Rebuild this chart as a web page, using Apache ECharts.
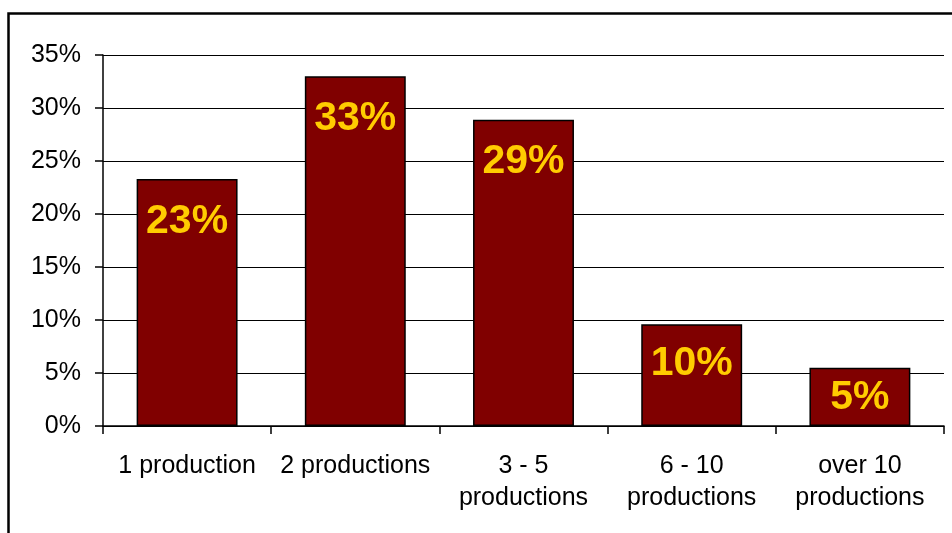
<!DOCTYPE html>
<html><head><meta charset="utf-8">
<script src="https://cdn.jsdelivr.net/npm/echarts@6/dist/echarts.min.js"></script>
<style>html,body{margin:0;padding:0;background:#fff}#c{width:952px;height:533px}</style>
</head><body><div id="c"></div>
<script>
const categories = ['1 production', '2 productions', '3 - 5\nproductions', '6 - 10\nproductions', 'over 10\nproductions'];
const values = [23.3, 33.0, 28.9, 9.6, 5.5];
const labels = ['23%', '33%', '29%', '10%', '5%'];
const yTicks = [0, 5, 10, 15, 20, 25, 30, 35];

const FONT = '"Liberation Sans", Arial, sans-serif';
const labelDist = [22, 22, 22, 19, 9];
const chart = echarts.init(document.getElementById('c'), null, {renderer: 'canvas'});
chart.setOption({
  animation: false,
  backgroundColor: '#fff',
  graphic: [{
    type: 'rect', left: 6, top: 11, shape: {width: 1000, height: 600},
    style: {fill: 'none', stroke: '#000', lineWidth: 2.5}, silent: true
  }],
  grid: {left: 103, right: 8, top: 55, bottom: 107, containLabel: false},
  xAxis: {
    type: 'category', data: categories,
    axisLine: {lineStyle: {color: '#000', width: 1.5}},
    axisTick: {show: true, length: 8, alignWithLabel: false, lineStyle: {color: '#000', width: 1.5}},
    axisLabel: {color: '#000', fontFamily: FONT, fontSize: 25, lineHeight: 32, margin: 24, interval: 0}
  },
  yAxis: {
    type: 'value', min: yTicks[0], max: yTicks[yTicks.length - 1], interval: 5,
    axisLine: {show: true, lineStyle: {color: '#000', width: 1.5}},
    axisTick: {show: true, length: 8, lineStyle: {color: '#000', width: 1.5}},
    axisLabel: {color: '#000', fontFamily: FONT, fontSize: 25, margin: 22, formatter: '{value}%'},
    splitLine: {show: true, lineStyle: {color: '#000', width: 1.2}}
  },
  series: [{
    type: 'bar',
    barCategoryGap: '40%',
    data: values.map((v, i) => ({
      value: v,
      label: {formatter: labels[i], distance: labelDist[i]}
    })),
    itemStyle: {color: '#800000', borderColor: '#000', borderWidth: 1.5},
    label: {
      show: true, position: 'insideTop',
      color: '#FFCC00', fontFamily: FONT, fontWeight: 'bold', fontSize: 41
    }
  }]
});
</script></body></html>
